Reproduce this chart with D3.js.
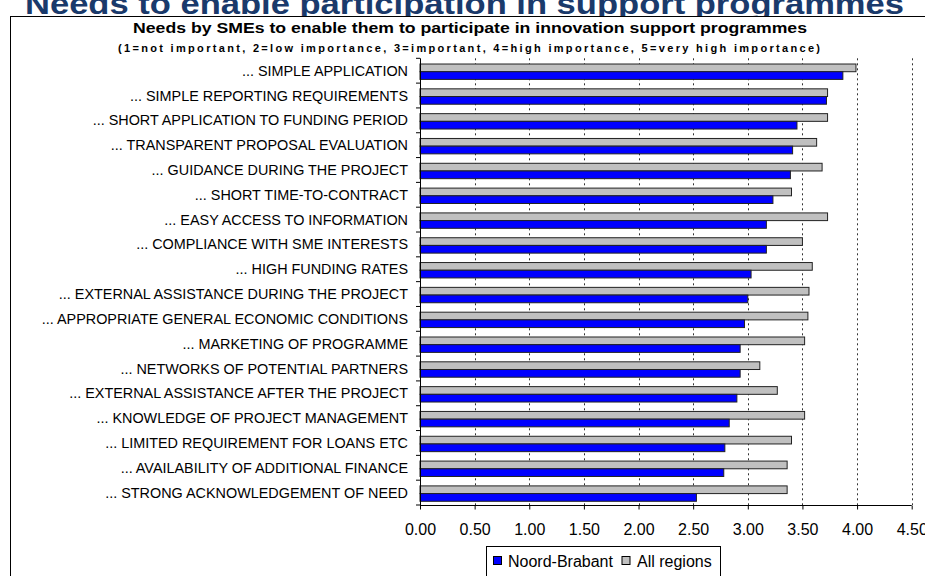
<!DOCTYPE html>
<html>
<head>
<meta charset="utf-8">
<script src="https://cdn.jsdelivr.net/npm/d3@7"></script>
<style>
  html, body { margin: 0; padding: 0; background: #fff; overflow: hidden; }
  svg { display: block; font-family: "Liberation Sans", Arial, sans-serif; }
</style>
</head>
<body>
<svg id="chart" width="925" height="576"></svg>
<script>
// Survey categories, listed top to bottom
const categories = [
  "... SIMPLE APPLICATION",
  "... SIMPLE REPORTING REQUIREMENTS",
  "... SHORT APPLICATION TO FUNDING PERIOD",
  "... TRANSPARENT PROPOSAL EVALUATION",
  "... GUIDANCE DURING THE PROJECT",
  "... SHORT TIME-TO-CONTRACT",
  "... EASY ACCESS TO INFORMATION",
  "... COMPLIANCE WITH SME INTERESTS",
  "... HIGH FUNDING RATES",
  "... EXTERNAL ASSISTANCE DURING THE PROJECT",
  "... APPROPRIATE GENERAL ECONOMIC CONDITIONS",
  "... MARKETING OF PROGRAMME",
  "... NETWORKS OF POTENTIAL PARTNERS",
  "... EXTERNAL ASSISTANCE AFTER THE PROJECT",
  "... KNOWLEDGE OF PROJECT MANAGEMENT",
  "... LIMITED REQUIREMENT FOR LOANS ETC",
  "... AVAILABILITY OF ADDITIONAL FINANCE",
  "... STRONG ACKNOWLEDGEMENT OF NEED"
];

// Mean importance scores per category
const noordBrabant = [3.87, 3.72, 3.45, 3.41, 3.39, 3.23, 3.17, 3.17, 3.03, 3.00, 2.97, 2.93, 2.93, 2.90, 2.83, 2.79, 2.78, 2.53];
const allRegions   = [3.99, 3.73, 3.73, 3.63, 3.68, 3.40, 3.73, 3.50, 3.59, 3.56, 3.55, 3.52, 3.11, 3.27, 3.52, 3.40, 3.36, 3.36];

// Axis ticks
const xTicks = [0, 0.5, 1, 1.5, 2, 2.5, 3, 3.5, 4, 4.5];

// Series, drawn upper bar first inside each category
const seriesNames = ["All regions", "Noord-Brabant"];
const seriesColors = { "Noord-Brabant": "#0000ff", "All regions": "#c0c0c0" };
const legendOrder = ["Noord-Brabant", "All regions"];

const pageTitle = "Needs to enable participation in support programmes";
const chartTitle = "Needs by SMEs to enable them to participate in innovation support programmes";
const chartSubtitle = "(1=not important, 2=low importance, 3=important, 4=high importance, 5=very high importance)";

const rows = categories.map((c, i) => ({
  category: c,
  "Noord-Brabant": noordBrabant[i],
  "All regions": allRegions[i]
}));

const svg = d3.select("#chart");

const plot = { left: 420, right: 911.7, top: 58.3, bottom: 505 };

const x = d3.scaleLinear().domain([0, 4.5]).range([plot.left, plot.right]);
const y = d3.scaleBand().domain(categories).range([plot.top, plot.bottom]).paddingInner(0.38).paddingOuter(0.19);
const ySub = d3.scaleBand().domain(seriesNames).range([0, y.bandwidth()]);

// Page heading, partly above the top edge
svg.append("text")
  .attr("x", 25).attr("y", 14)
  .attr("textLength", 879).attr("lengthAdjust", "spacingAndGlyphs")
  .style("font-size", "30px").style("font-weight", "bold")
  .style("fill", "#1a3a6b")
  .text(pageTitle);

// Chart frame
svg.append("rect")
  .attr("x", 10.5).attr("y", 16.5)
  .attr("width", 1000).attr("height", 1000)
  .attr("fill", "#fff").attr("stroke", "#000").attr("stroke-width", 1);

// Titles
svg.append("text")
  .attr("x", 470).attr("y", 33)
  .attr("text-anchor", "middle")
  .attr("textLength", 674).attr("lengthAdjust", "spacingAndGlyphs")
  .style("font-size", "15px").style("font-weight", "bold")
  .text(chartTitle);

svg.append("text")
  .attr("x", 469).attr("y", 52)
  .attr("text-anchor", "middle")
  .attr("textLength", 702).attr("lengthAdjust", "spacing")
  .style("font-size", "11px").style("font-weight", "bold")
  .text(chartSubtitle);

// Dotted gridlines
svg.append("g")
  .selectAll("line")
  .data(xTicks.filter(d => d > 0))
  .join("line")
  .attr("x1", d => Math.round(x(d)) + 0.5).attr("x2", d => Math.round(x(d)) + 0.5)
  .attr("y1", plot.top).attr("y2", plot.bottom)
  .attr("stroke", "#333").attr("stroke-width", 1)
  .attr("stroke-dasharray", "2,3");

// Bars
const groups = svg.append("g")
  .selectAll("g")
  .data(rows)
  .join("g")
  .attr("transform", d => `translate(0,${y(d.category) + 1})`);

groups.selectAll("rect")
  .data(d => seriesNames.map(s => ({ series: s, value: d[s] })))
  .join("rect")
  .attr("x", x(0))
  .attr("y", d => ySub(d.series))
  .attr("width", d => x(d.value) - x(0))
  .attr("height", ySub.bandwidth())
  .attr("fill", d => seriesColors[d.series])
  .attr("stroke", "#222").attr("stroke-width", 1);

// Category axis: line, boundary ticks and labels
const step = y.step();
svg.append("line")
  .attr("x1", plot.left + 0.5).attr("x2", plot.left + 0.5)
  .attr("y1", plot.top).attr("y2", plot.bottom)
  .attr("stroke", "#000");

svg.append("g")
  .selectAll("line")
  .data(d3.range(categories.length + 1))
  .join("line")
  .attr("x1", plot.left - 4).attr("x2", plot.left)
  .attr("y1", i => plot.top + i * step).attr("y2", i => plot.top + i * step)
  .attr("stroke", "#000");

svg.append("g")
  .selectAll("text")
  .data(categories)
  .join("text")
  .attr("x", 408)
  .attr("y", d => y(d) - y.step() * y.paddingInner() / 2 + step / 2)
  .attr("dy", "0.35em")
  .attr("text-anchor", "end")
  .style("font-size", "14.4px")
  .text(d => d);

// Value axis
const xAxis = d3.axisBottom(x)
  .tickValues(xTicks)
  .tickFormat(d3.format(".2f"))
  .tickSize(4)
  .tickPadding(14);

const gx = svg.append("g")
  .attr("transform", `translate(0,${plot.bottom + 0.5})`)
  .call(xAxis);
gx.select(".domain").attr("stroke", "#000").attr("d", `M${plot.left},0H${plot.right}`);
gx.selectAll(".tick line").attr("stroke", "#000");
gx.selectAll(".tick text").style("font-size", "16px").style("font-family", "'Liberation Sans', Arial, sans-serif").attr("fill", "#000");

// Legend
const legend = svg.append("g");
legend.append("rect")
  .attr("x", 486.5).attr("y", 546.5)
  .attr("width", 234).attr("height", 60)
  .attr("fill", "#fff").attr("stroke", "#000");

const legendPos = [{ sx: 493, tx: 508 }, { sx: 621.5, tx: 637 }];
legendOrder.forEach((s, i) => {
  legend.append("rect")
    .attr("x", legendPos[i].sx + 0.5).attr("y", 556.5)
    .attr("width", 8).attr("height", 8)
    .attr("fill", seriesColors[s]).attr("stroke", "#000");
  legend.append("text")
    .attr("x", legendPos[i].tx).attr("y", 567)
    .style("font-size", "16px")
    .text(s);
});
</script>
</body>
</html>
